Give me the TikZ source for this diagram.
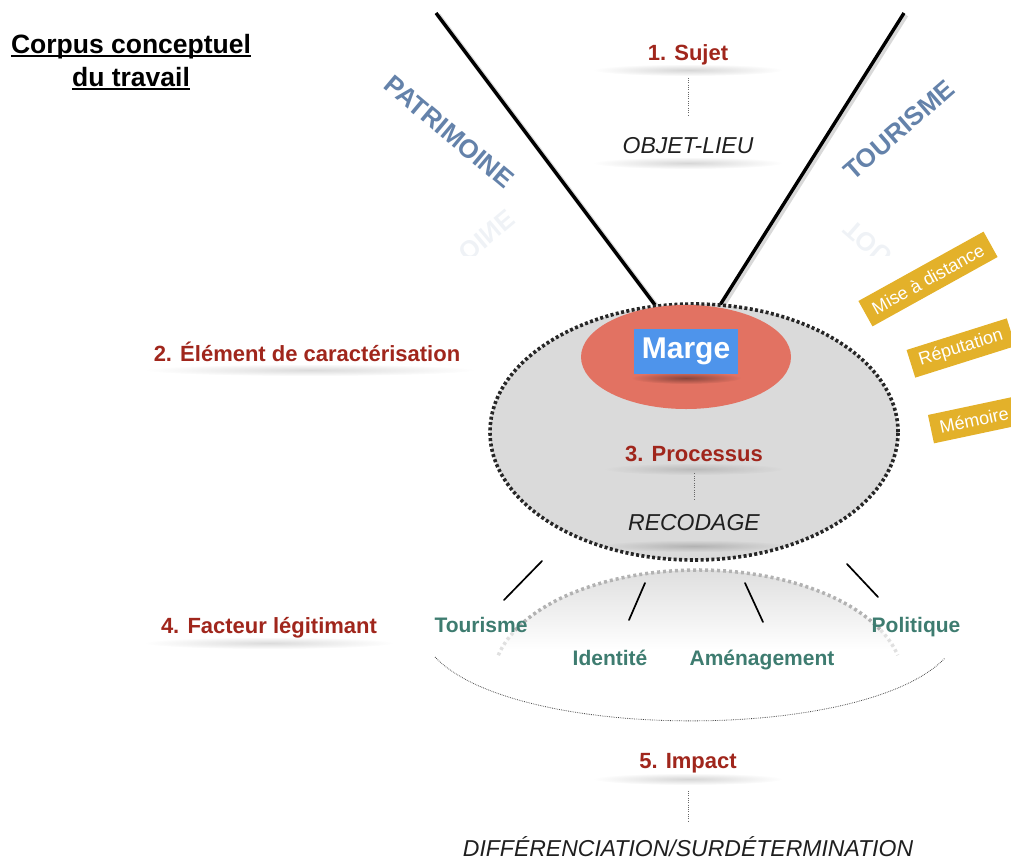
\documentclass[tikz,border=0pt]{standalone}
\usepackage{fontspec}
\setmainfont{Liberation Sans}
\usetikzlibrary{calc,fadings,shapes.geometric}
\definecolor{lblred}{RGB}{160,38,28}
\definecolor{tealtxt}{RGB}{62,124,112}
\definecolor{steel}{RGB}{100,130,170}
\definecolor{goldbg}{RGB}{227,177,42}
\definecolor{salmon}{RGB}{226,114,98}
\definecolor{margeblue}{RGB}{78,148,235}
\definecolor{ellgrey}{RGB}{218,218,218}
\tikzfading[name=fuzzyfade, inner color=transparent!0, outer color=transparent!100]
\newcommand\lblshade[4]{\fill[black,opacity=#4,path fading=fuzzyfade] (#1,#2) ellipse [x radius=#3, y radius=6];}
\begin{document}
\begin{tikzpicture}[x=1pt,y=-1pt,
  redlbl/.style={text=lblred, font=\fontsize{22}{26}\selectfont\bfseries, inner sep=0pt, anchor=base},
  itlbl/.style={text=black!88, font=\fontsize{23}{27}\selectfont\itshape, inner sep=0pt, anchor=base},
  tlbl/.style={text=tealtxt, font=\fontsize{21}{25}\selectfont\bfseries, inner sep=0pt, anchor=base},
  titlelbl/.style={text=black, font=\fontsize{26.5}{31}\selectfont\bfseries, inner sep=0pt, anchor=base},
  goldbox/.style={fill=goldbg, text=white, font=\fontsize{18}{21}\selectfont, inner xsep=9pt, minimum height=29pt},
  bigword/.style={text=steel, font=\fontsize{26}{31}\selectfont\bfseries, inner sep=0pt},
  dotconn/.style={draw=black!60, line width=0.9pt, dash pattern=on 1pt off 1.3pt},
  vline/.style={line width=3.4pt, black},
  vshadow/.style={line width=5pt, black!15},
  tickline/.style={line width=1.7pt, black, line cap=round}
]
\useasboundingbox (0,0) rectangle (1011,860);

% title
\node[titlelbl] (t1) at (131,53) {Corpus conceptuel};
\node[titlelbl] (t2) at (131,86) {du travail};
\draw[line width=1.5pt] ([yshift=-3pt]t1.base west) -- ([yshift=-3pt]t1.base east);
\draw[line width=1.5pt] ([yshift=-3pt]t2.base west) -- ([yshift=-3pt]t2.base east);

% reflections (only the letters near the mirror line)
\begin{scope}
  \clip (380,205) rectangle (560,255);
  \begin{scope}[cm={1,0,0,-1,(0pt,-400pt)}]
    \node[bigword, rotate=-40, transform shape, opacity=0.1, anchor=east] (patrirefl) at (511.5,184.5) {OINE};
  \end{scope}
\end{scope}
\begin{scope}
  \clip (815,205) rectangle (905,255);
  \begin{scope}[cm={1,0,0,-1,(0pt,-400pt)}]
    \node[bigword, rotate=41, transform shape, opacity=0.1, anchor=west] (tourirefl) at (847.2,175) {TOU};
  \end{scope}
\end{scope}

% big words
\node[bigword, rotate=-40] (patri) at (449,132) {PATRIMOINE};
\node[bigword, rotate=41] (touri) at (899,130) {TOURISME};

% the two lines
\coordinate (L1) at (436,13); \coordinate (L2) at (655,305);
\coordinate (R1) at (904,13); \coordinate (R2) at (720,305);
\draw[vshadow] ([xshift=2pt,yshift=-2pt]L1) -- ([xshift=2pt,yshift=-2pt]L2);
\draw[vshadow] ([xshift=2pt,yshift=-2pt]R1) -- ([xshift=2pt,yshift=-2pt]R2);
\draw[vline] (L1) -- (L2);
\draw[vline] (R1) -- (R2);

% 1. Sujet
\lblshade{688}{70}{95}{0.16}
\lblshade{688}{163}{95}{0.16}
\node[redlbl] (sujet) at (688,60) {1. Sujet};
\node[itlbl] (objet) at (688,153) {OBJET-LIEU};
\draw[dotconn, shorten <=13pt, shorten >=20pt] (sujet.south) -- (objet.north);

% big ellipse
\node[ellipse, draw=black!85, fill=ellgrey, line width=3.6pt, dash pattern=on 3pt off 2.4pt,
      minimum width=408pt, minimum height=256pt, inner sep=0pt] (proc) at (694,432) {};
\node[ellipse, fill=salmon, minimum width=210pt, minimum height=104pt, inner sep=0pt] (red) at (686,357) {};
\lblshade{686}{378}{55}{0.4}
\node[fill=margeblue, text=white, font=\fontsize{30}{34}\selectfont\bfseries,
      minimum width=104pt, minimum height=45pt, inner sep=0pt] (marge) at (686,351) {Marge};

\lblshade{694}{469}{90}{0.14}
\lblshade{694}{546}{95}{0.18}
\node[redlbl] (proc3) at (694,461) {3. Processus};
\node[itlbl] (recod) at (694,530) {RECODAGE};
\draw[dotconn, shorten <=12pt, shorten >=14pt] (proc3.south) -- (recod.north);

% gold boxes
\node[goldbox, rotate=29] (mise) at (928,279) {Mise à distance};
\node[goldbox, rotate=17.5] (rep) at (961,348) {Réputation};
\node[goldbox, rotate=12] (mem) at (974,420) {Mémoire};

% lower arc zone
\begin{scope}
  \clip (698,680) ellipse [x radius=205, y radius=110];
  \shade[top color=black!13, bottom color=white] (480,568) rectangle (920,650);
\end{scope}
\draw[line width=3.5pt, black!12, dash pattern=on 3pt off 3pt]
  (698,680) ++(193:205 and 110) arc[start angle=193, end angle=207, x radius=205, y radius=110];
\draw[line width=3.5pt, black!30, dash pattern=on 3pt off 3pt]
  (698,680) ++(207:205 and 110) arc[start angle=207, end angle=333, x radius=205, y radius=110];
\draw[line width=3.5pt, black!12, dash pattern=on 3pt off 3pt]
  (698,680) ++(333:205 and 110) arc[start angle=333, end angle=347, x radius=205, y radius=110];

\coordinate (k1a) at (542,561); \coordinate (k1b) at (504,600);
\coordinate (k2a) at (645,583); \coordinate (k2b) at (629,620);
\coordinate (k3a) at (745,583); \coordinate (k3b) at (763,622);
\coordinate (k4a) at (847,564); \coordinate (k4b) at (878,597);
\draw[tickline] (k1a) -- (k1b);
\draw[tickline] (k2a) -- (k2b);
\draw[tickline] (k3a) -- (k3b);
\draw[tickline] (k4a) -- (k4b);

\node[tlbl] (ftour) at (481,632) {Tourisme};
\node[tlbl] (fiden) at (610,665) {Identité};
\node[tlbl] (famen) at (762,665) {Aménagement};
\node[tlbl] (fpoli) at (916,632) {Politique};

\coordinate (a1) at (435,657); \coordinate (a2) at (945,658);
\draw[black!75, line width=0.8pt, dash pattern=on 0.7pt off 1.1pt]
  (a1) .. controls (515,742) and (865,742) .. (a2);

% left labels
\lblshade{310}{370}{165}{0.14}
\node[redlbl] (elem) at (307,361) {2. Élément de caractérisation};
\lblshade{269}{643}{125}{0.14}
\node[redlbl] (fact) at (269,633) {4. Facteur légitimant};

% impact
\lblshade{688}{779}{95}{0.16}
\node[redlbl] (impact) at (688,768) {5. Impact};
\node[itlbl] (diff) at (688,856) {DIFFÉRENCIATION/SURDÉTERMINATION};
\draw[dotconn, shorten <=18pt, shorten >=13pt] (impact.south) -- (diff.north);
\end{tikzpicture}
\end{document}
